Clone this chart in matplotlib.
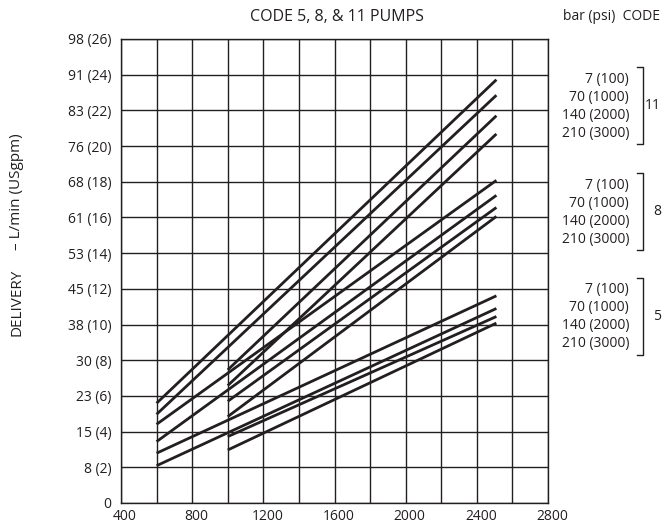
import matplotlib as mpl
mpl.use('Agg')
from matplotlib import pyplot as plt
from matplotlib import transforms

# speed (rpm) and delivery (USgpm), start and end of each line
codes = ['11', '8', '5']
pressures = ['7 (100)', '70 (1000)', '140 (2000)', '210 (3000)']
speed_start = {
    '11': [600, 600, 1000, 1000],
    '8': [600, 600, 1000, 1000],
    '5': [600, 600, 1000, 1000],
}
speed_end = 2510
flow_start = {
    '11': [5.59, 4.97, 7.46, 6.58],
    '8': [4.41, 3.44, 5.70, 4.84],
    '5': [2.79, 2.09, 3.72, 2.97],
}
flow_end = {
    '11': [23.72, 22.85, 21.70, 20.68],
    '8': [18.08, 17.24, 16.56, 16.06],
    '5': [11.61, 10.90, 10.45, 10.08],
}

x_ticks = [400, 800, 1200, 1600, 2000, 2400, 2800]
y_ticks = [0, 2, 4, 6, 8, 10, 12, 14, 16, 18, 20, 22, 24, 26]
y_labels = ['0', '8 (2)', '15 (4)', '23 (6)', '30 (8)', '38 (10)', '45 (12)',
            '53 (14)', '61 (16)', '68 (18)', '76 (20)', '83 (22)', '91 (24)',
            '98 (26)']

plt.rcParams['font.family'] = ['Open Sans', 'DejaVu Sans']
ink = '#231f20'
fs = 10

W, H = 662, 529
fig = plt.figure(figsize=(W / 100, H / 100), dpi=100)
ax = fig.add_axes([121 / W, 1 - 503 / H, (548 - 121) / W, (503 - 39) / H])
ax.set_xlim(400, 2800)
ax.set_ylim(0, 26)

for x in range(400, 2801, 200):
    ax.axvline(x, color=ink, lw=1.0, zorder=1)
for y in y_ticks:
    ax.axhline(y, color=ink, lw=1.0, zorder=1)

for c in codes:
    for i in range(4):
        ax.plot([speed_start[c][i], speed_end], [flow_start[c][i], flow_end[c][i]],
                color=ink, lw=2.0, solid_capstyle='butt', zorder=3)

ax.set_xticks(x_ticks)
ax.set_yticks(y_ticks)
ax.set_yticklabels(y_labels)
ax.tick_params(length=0, labelsize=fs, colors=ink)
ax.tick_params(axis='y', pad=7)
ax.tick_params(axis='x', pad=4)
shift = transforms.ScaledTranslation(4 / 100, 0, fig.dpi_scale_trans)
for lab in ax.get_xticklabels():
    lab.set_transform(lab.get_transform() + shift)
for s in ax.spines.values():
    s.set_color(ink)
    s.set_linewidth(1.0)

fig.text(337 / W, 1 - 17 / H, 'CODE 5, 8, & 11 PUMPS', ha='center', va='center',
         fontsize=11.5, color=ink)
fig.text(563 / W, 1 - 17 / H, 'bar (psi)  CODE', ha='left', va='center',
         fontsize=fs, color=ink)
fig.text(17 / W, 1 - 302 / H, 'DELIVERY', rotation=90,
         ha='center', va='center', fontsize=11, color=ink)
fig.text(17 / W, 1 - 192 / H, '\u2013 L/min (USgpm)', rotation=90,
         ha='center', va='center', fontsize=11, color=ink)

# pressure legend with brackets on the right
group_top = {'11': 79, '8': 185, '5': 290}
for c in codes:
    y0 = group_top[c]
    for k, p in enumerate(pressures):
        fig.text(629 / W, 1 - (y0 + k * 18) / H, p, ha='right', va='center',
                 fontsize=fs, color=ink)
    top, bot = y0 - 12, y0 + 65
    fig.add_artist(plt.Line2D([637 / W, 643 / W, 643 / W, 637 / W],
                              [1 - top / H, 1 - top / H, 1 - bot / H, 1 - bot / H],
                              color=ink, lw=1.0))
    fig.text(661 / W, 1 - (top + bot) / 2 / H, c, ha='right', va='center',
             fontsize=fs, color=ink)

fig.savefig('out.png', dpi=100)
